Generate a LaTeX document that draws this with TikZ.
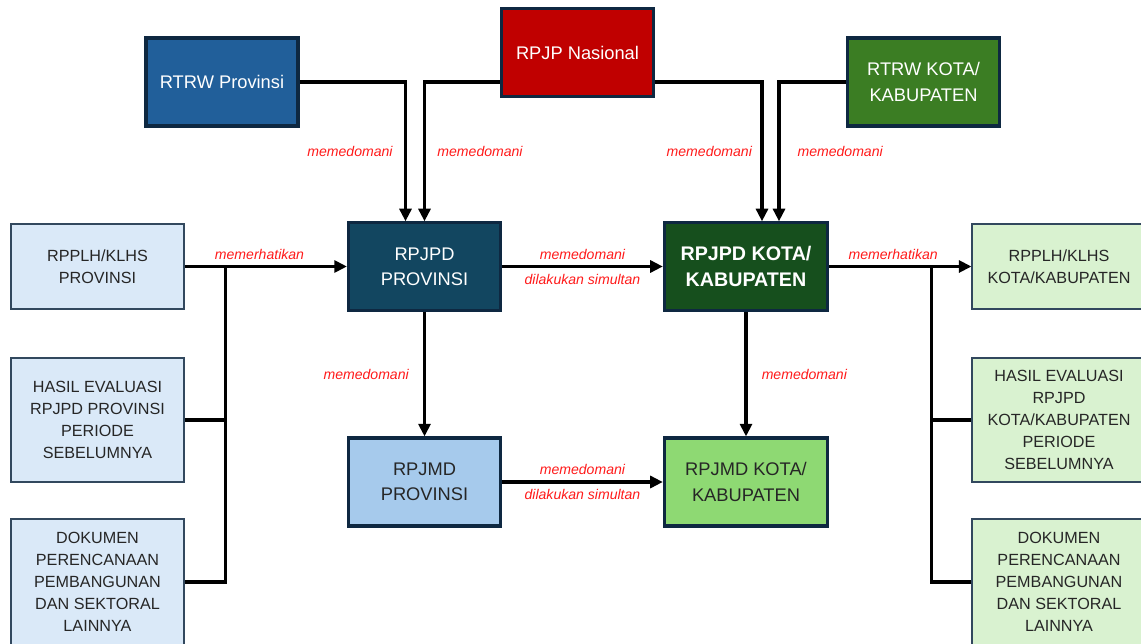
\documentclass[tikz,border=0pt]{standalone}
\usepackage{fontspec}
\setmainfont{Liberation Sans}
\usetikzlibrary{arrows.meta, positioning, calc}
\definecolor{edgecolor}{HTML}{0E2841}
\definecolor{rtrwprov}{HTML}{215F9A}
\definecolor{nasional}{HTML}{C00000}
\definecolor{rtrwkota}{HTML}{3B7D23}
\definecolor{rpjpdprov}{HTML}{124660}
\definecolor{rpjpdkota}{HTML}{164F1D}
\definecolor{provlight}{HTML}{DAE9F8}
\definecolor{kotalight}{HTML}{D9F2D0}
\definecolor{rpjmdprov}{HTML}{A6CAEC}
\definecolor{rpjmdkota}{HTML}{8ED973}
\definecolor{notered}{HTML}{FF1A1A}

\begin{document}
\begin{tikzpicture}[
    x=0.025cm, y=-0.025cm,
    plan/.style={draw=edgecolor, line width=2.2pt, align=center, inner sep=2pt,
        minimum width=3.8cm, minimum height=2.2cm, font=\fontsize{13}{18}\selectfont},
    darkplan/.style={plan, text=white},
    sideplan/.style={draw=edgecolor!85, line width=1.3pt, align=center, inner sep=2pt,
        minimum width=4.33cm, text=black!85, font=\fontsize{11.5}{15.6}\selectfont},
    flow/.style={-{Triangle[length=9pt, width=8.5pt]}, line width=2.4pt},
    link/.style={line width=2.4pt},
    remark/.style={text=notered, font=\fontsize{10}{11}\selectfont\itshape, inner sep=2pt}
]
    \useasboundingbox (0,0) rectangle (1141,643);
    \clip (0,0) rectangle (1141,643);

    % Top row
    \node[darkplan, fill=rtrwprov] (rtrwp) at (222,82) {RTRW Provinsi};
    \node[darkplan, fill=nasional, minimum height=2.18cm] (rpjpn) at (577.5,52.5) {RPJP Nasional};
    \node[darkplan, fill=rtrwkota] (rtrwk) at (923.5,82) {RTRW KOTA/\\KABUPATEN};

    % Middle row
    \node[sideplan, fill=provlight, minimum height=2.13cm] (rpplhp) at (97.5,266.5) {RPPLH/KLHS\\PROVINSI};
    \node[darkplan, fill=rpjpdprov, minimum height=2.18cm] (rpjpdp) at (424.5,266.5) {RPJPD\\PROVINSI};
    \node[darkplan, fill=rpjpdkota, minimum width=4.08cm, minimum height=2.18cm,
        font=\fontsize{14}{19}\selectfont\bfseries] (rpjpdk) at (746,266.5) {RPJPD KOTA/\\KABUPATEN};
    \node[sideplan, fill=kotalight, minimum height=2.13cm] (rpplhk) at (1059,266.5) {RPPLH/KLHS\\KOTA/KABUPATEN};

    % Side columns
    \node[sideplan, fill=provlight, minimum height=3.1cm] (hasilp) at (97.5,420) {HASIL EVALUASI\\RPJPD PROVINSI\\PERIODE\\SEBELUMNYA};
    \node[sideplan, fill=provlight, minimum height=3.15cm] (dokp) at (97.5,582) {DOKUMEN\\PERENCANAAN\\PEMBANGUNAN\\DAN SEKTORAL\\LAINNYA};
    \node[sideplan, fill=kotalight, minimum height=3.1cm] (hasilk) at (1059,420) {HASIL EVALUASI\\RPJPD\\KOTA/KABUPATEN\\PERIODE\\SEBELUMNYA};
    \node[sideplan, fill=kotalight, minimum height=3.15cm] (dokk) at (1059,582) {DOKUMEN\\PERENCANAAN\\PEMBANGUNAN\\DAN SEKTORAL\\LAINNYA};

    % Bottom row
    \node[plan, fill=rpjmdprov, text=black!85] (rpjmdp) at (424.5,482) {RPJMD\\PROVINSI};
    \node[plan, fill=rpjmdkota, text=black!85, minimum width=4.08cm] (rpjmdk) at (746,482) {RPJMD KOTA/\\KABUPATEN};

    % Connectors from the top
    \draw[flow] (rtrwp.east) -| ($(rpjpdp.north)+(-19,0)$)
        node[remark, left, pos=0.75, xshift=-6pt] {memedomani};
    \draw[flow] (rpjpn.west |- rtrwp.east) -| (rpjpdp.north)
        node[remark, right, pos=0.75, xshift=6pt] {memedomani};
    \draw[flow] (rpjpn.east |- rtrwk.west) -| ($(rpjpdk.north)+(16,0)$)
        node[remark, left, pos=0.75, xshift=-4pt] {memedomani};
    \draw[flow] (rtrwk.west) -| ($(rpjpdk.north)+(33,0)$)
        node[remark, right, pos=0.75, xshift=10pt] {memedomani};

    % Middle connectors
    \coordinate (busp) at ($(rpplhp.east)!0.25!(rpjpdp.west)$);
    \coordinate (busk) at ($(rpjpdk.east)!0.72!(rpplhk.west)$);
    \draw[flow] (rpplhp.east) -- (rpjpdp.west)
        node[remark, above, pos=0.46, yshift=2pt] {memerhatikan};
    \draw[link] (hasilp.east) -| (busp);
    \draw[link] (dokp.east) -| (busp);
    \draw[flow] (rpjpdp.east) -- (rpjpdk.west)
        node[remark, above, midway, yshift=2pt] {memedomani}
        node[remark, below, midway, yshift=-2pt] {dilakukan simultan};
    \draw[flow] (rpjpdk.east) -- (rpplhk.west)
        node[remark, above, pos=0.45, yshift=2pt] {memerhatikan};
    \draw[link] (hasilk.west) -| (busk);
    \draw[link] (dokk.west) -| (busk);

    % Downward connectors
    \draw[flow] (rpjpdp.south) -- (rpjmdp.north)
        node[remark, left, midway, xshift=-8pt] {memedomani};
    \draw[flow] (rpjpdk.south) -- (rpjmdk.north)
        node[remark, right, midway, xshift=8pt] {memedomani};
    \draw[flow] (rpjmdp.east) -- (rpjmdk.west)
        node[remark, above, midway, yshift=2pt] {memedomani}
        node[remark, below, midway, yshift=-2pt] {dilakukan simultan};
\end{tikzpicture}
\end{document}
